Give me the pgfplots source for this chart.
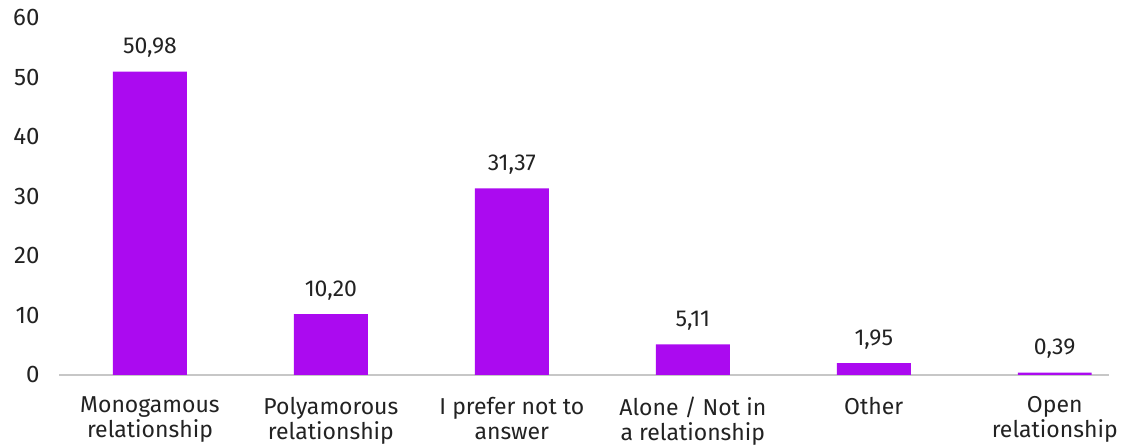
\documentclass[border=0pt]{standalone}
\usepackage{pgfplots}
\pgfplotsset{compat=1.18}
\usepackage{fontspec}
\setmainfont{Fira Sans}
\definecolor{barpurple}{RGB}{171,10,240}
\definecolor{txt}{RGB}{34,34,34}
\begin{document}
\fontsize{11.5pt}{13pt}\selectfont
\begin{tikzpicture}
\begin{axis}[
  scale only axis,
  width=525pt, height=178.5pt,
  xmin=-0.5, xmax=5.3,
  ymin=0, ymax=60,
  ytick={0,10,...,60},
  xtick={0,1,2,3,4,5},
  xticklabels={Monogamous\\relationship, Polyamorous\\relationship, I prefer not to\\answer, Alone / Not in\\a relationship, Other, Open\\relationship},
  xticklabel style={align=center, font=\fontsize{11.5pt}{12.5pt}\selectfont, text=txt, yshift=-7pt, anchor=north},
  yticklabel style={font=\fontsize{12pt}{13pt}\selectfont, text=txt, xshift=-6pt},
  /pgf/number format/assume math mode=true,
  major tick length=0pt,
  axis x line=bottom, axis y line=left,
  x axis line style={-, draw=black!22, line width=0.8pt},
  y axis line style={draw=none},
  ybar, bar width=37pt,
  nodes near coords,
  nodes near coords style={font=\fontsize{11.5pt}{13pt}\selectfont, text=txt, yshift=3pt,
    /pgf/number format/.cd, fixed, fixed zerofill, precision=2, use comma, assume math mode=true},
  clip=false,
]
\addplot[fill=barpurple, draw=none] coordinates {(0,50.98) (1,10.20) (2,31.37) (3,5.11) (4,1.95) (5,0.39)};
\end{axis}
\pgfresetboundingbox
\useasboundingbox ([xshift=-29.75pt,yshift=-35pt]current axis.south west) rectangle ([xshift=8.5pt,yshift=9pt]current axis.north east);
\end{tikzpicture}
\end{document}
